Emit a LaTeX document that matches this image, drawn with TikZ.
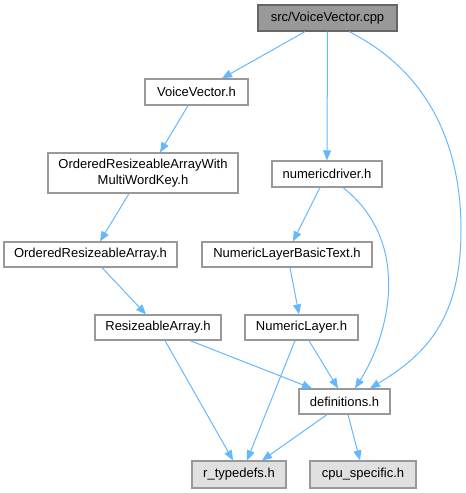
\documentclass[tikz,border=0pt]{standalone}
\usepackage{fontspec}
\setmainfont{Liberation Sans}
\usepackage{xcolor}
\usepackage{tikz}
\usetikzlibrary{arrows.meta}

\definecolor{edgeblue}{HTML}{63B8FF}
\definecolor{rootfill}{HTML}{999999}
\definecolor{rootline}{HTML}{666666}
\definecolor{leaffill}{HTML}{E0E0E0}
\definecolor{boxline}{HTML}{999999}

\begin{document}
\begin{tikzpicture}[
    x=1pt, y=-1pt,
    file/.style={draw=boxline, line width=1.2pt, fill=white, inner sep=0pt, minimum height=26pt, align=center, font=\fontsize{13}{16}\selectfont},
    root/.style={file, draw=rootline, fill=rootfill},
    leaf/.style={file, fill=leaffill, minimum height=27pt},
    dep/.style={-{Triangle[length=10pt, width=8pt]}, edgeblue, line width=1pt}
]
    \useasboundingbox (0,0) rectangle (466,493);

    % Files
    \node[root, minimum width=139pt] (cpp)   at (327.5, 18)    {src/VoiceVector.cpp};
    \node[file, minimum width=103pt] (vvh)   at (196.5, 92)    {VoiceVector.h};
    \node[file, minimum width=190pt, minimum height=40pt] (orawm) at (143, 173) {OrderedResizeableArrayWith\\MultiWordKey.h};
    \node[file, minimum width=110pt] (nd)    at (327, 174)     {numericdriver.h};
    \node[file, minimum width=173pt, minimum height=25pt] (ora)   at (90.5, 254.5) {OrderedResizeableArray.h};
    \node[file, minimum width=170pt, minimum height=25pt] (nlbt)  at (287, 254.5)  {NumericLayerBasicText.h};
    \node[file, minimum width=126pt, minimum height=25pt] (ra)    at (158, 327.5)  {ResizeableArray.h};
    \node[file, minimum width=113pt, minimum height=25pt] (nl)    at (301.5, 327.5) {NumericLayer.h};
    \node[file, minimum width=91pt, minimum height=25pt]  (defs)  at (344.5, 401.5) {definitions.h};
    \node[leaf, minimum width=94pt]  (rtd)   at (239, 474.5)   {r\_typedefs.h};
    \node[leaf, minimum width=106pt] (cpu)   at (363, 474.5)   {cpu\_specific.h};

    % From the source file
    \draw[dep] ([xshift=-22.5pt]cpp.south) -- ([xshift=25.5pt]vvh.north);
    \draw[dep] (cpp.south) -- (nd.north);
    \draw[dep] ([xshift=21.5pt]cpp.south) .. controls (425,70) and (461,140) .. (461,230)
        .. controls (461,320) and (425,355) .. ([xshift=25.5pt]defs.north);

    % Left chain
    \draw[dep] ([xshift=-8.5pt]vvh.south) -- ([xshift=17pt]orawm.north);
    \draw[dep] ([xshift=-14pt]orawm.south) -- ([xshift=9.5pt]ora.north);
    \draw[dep] ([xshift=11.5pt]ora.south) -- ([xshift=-12pt]ra.north);

    % Right chain
    \draw[dep] ([xshift=-7pt]nd.south) -- ([xshift=6pt]nlbt.north);
    \draw[dep] ([xshift=16pt]nd.south) .. controls (410,240) and (392,330) .. ([xshift=10.5pt]defs.north);
    \draw[dep] ([xshift=3pt]nlbt.south) -- ([xshift=-2.5pt]nl.north);

    % Down to the common headers
    \draw[dep] ([xshift=7pt]ra.south) -- ([xshift=-6pt]rtd.north);
    \draw[dep] ([xshift=32pt]ra.south) -- ([xshift=-32.5pt]defs.north);
    \draw[dep] ([xshift=-6.5pt]nl.south) -- ([xshift=8pt]rtd.north);
    \draw[dep] ([xshift=7.5pt]nl.south) -- ([xshift=-6.5pt]defs.north);
    \draw[dep] ([xshift=-17.5pt]defs.south) -- ([xshift=23pt]rtd.north);
    \draw[dep] ([xshift=3.5pt]defs.south) -- ([xshift=-3pt]cpu.north);
\end{tikzpicture}
\end{document}
